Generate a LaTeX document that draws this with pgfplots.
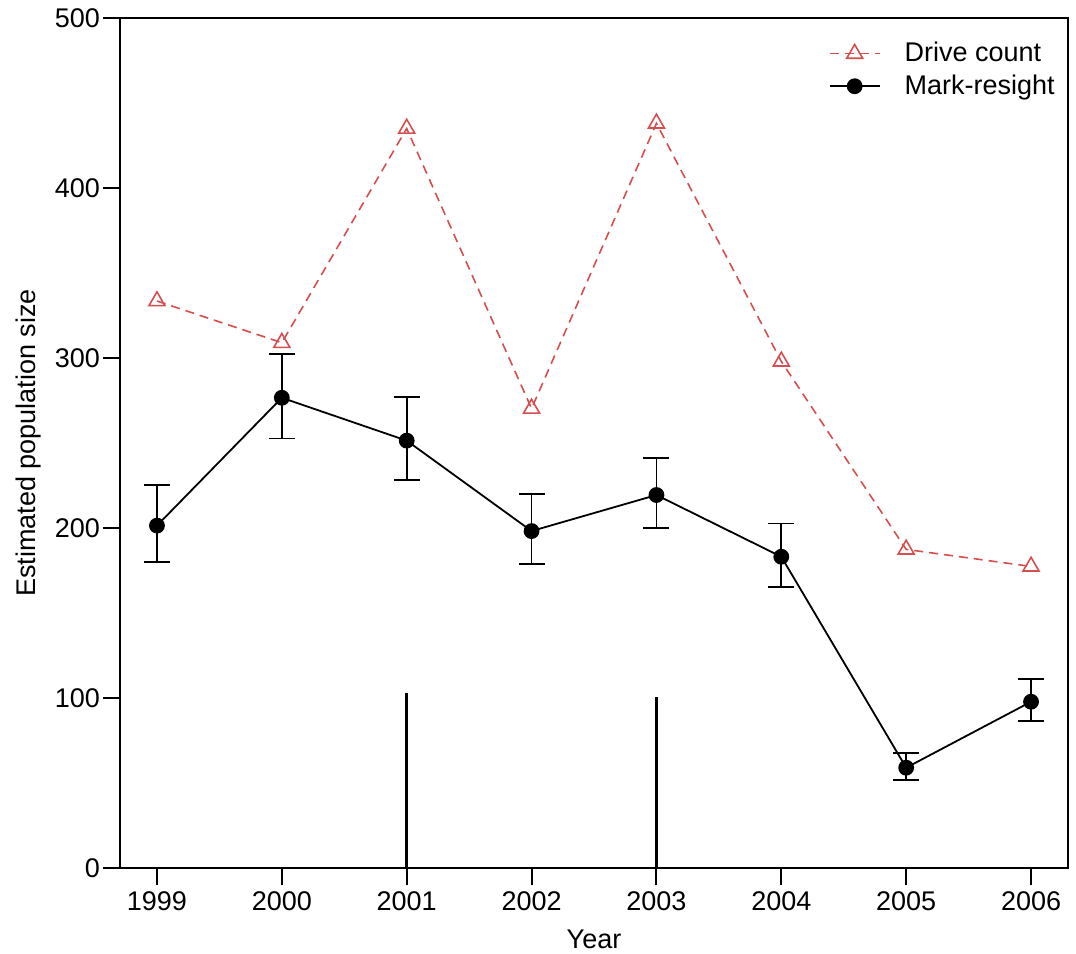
\documentclass[border=0pt]{standalone}
\usepackage{pgfplots}
\pgfplotsset{compat=1.18}
\usepackage{pgfplotstable}
\usepackage{fontspec}
\setmainfont{Liberation Sans}
\definecolor{dcred}{RGB}{214,78,78}

\pgfplotstableread{
x y
1999 333.5
2000 309
2001 435
2002 270.3
2003 438
2004 298
2005 187.4
2006 177.4
}\drivecount

\pgfplotstableread{
x y ep em
1999 201.4 23.9 21.6
2000 276.6 25.8 23.9
2001 251.4 25.5 23.2
2002 198.2 21.8 19.4
2003 219.4 22.0 19.6
2004 183.1 19.6 17.6
2005 59.0 8.5 7.2
2006 97.8 13.2 11.3
}\markresight

\begin{document}
\begin{tikzpicture}[font=\fontsize{13.5}{16}\selectfont]
\begin{axis}[
  name=ax,
  scale only axis,
  width=474pt, height=425pt,
  xmin=1998.704, xmax=2006.296,
  ymin=0, ymax=500,
  xtick={1999,2000,...,2006},
  ytick={0,100,...,500},
  xticklabel style={/pgf/number format/1000 sep={}},
  yticklabel style={xshift=2pt},
  /pgf/number format/assume math mode=true,
  tick align=outside,
  major tick length=8.5pt,
  xtick pos=bottom, ytick pos=left,
  axis line style={line width=1pt},
  every tick/.style={black, line width=1pt},
  xlabel={Year},
  xlabel style={yshift=-2.5pt},
  ylabel={Estimated population size},
  legend cell align=left,
  legend style={at={(rel axis cs:1,1)}, anchor=north east, xshift=-1.5pt, yshift=-8pt,
    draw=none, fill=none, row sep=1pt, font=\fontsize{13.5}{16}\selectfont,
    /tikz/every odd column/.append style={column sep=10pt}},
  legend image code/.code={\draw[mark repeat=2,mark phase=2,#1] plot coordinates {(0pt,0pt) (12.5pt,0pt) (25pt,0pt)};},
]
\addplot[black, line width=1.3pt, ycomb, no markers, forget plot] coordinates {(2001,103) (2003,100.5)};
\addplot[dcred, line width=0.8pt, dash pattern=on 4.5pt off 3pt, mark=triangle, mark size=4.6pt,
  mark options={solid, line width=0.8pt}] table[x=x,y=y] {\drivecount};
\addlegendentry{Drive count}
\addplot[black, line width=0.9pt, mark=*, mark size=3.5pt,
  error bars/.cd, y dir=both, y explicit,
  error bar style={line width=0.9pt},
  error mark options={black, line width=0.9pt, mark size=6.5pt, rotate=90}]
  table[x=x,y=y,y error plus=ep,y error minus=em] {\markresight};
\addlegendentry{Mark-resight}
\end{axis}
\pgfresetboundingbox
\path ([xshift=-60pt,yshift=-42.5pt]ax.south west) rectangle ([xshift=4pt,yshift=9pt]ax.north east);
\end{tikzpicture}
\end{document}
